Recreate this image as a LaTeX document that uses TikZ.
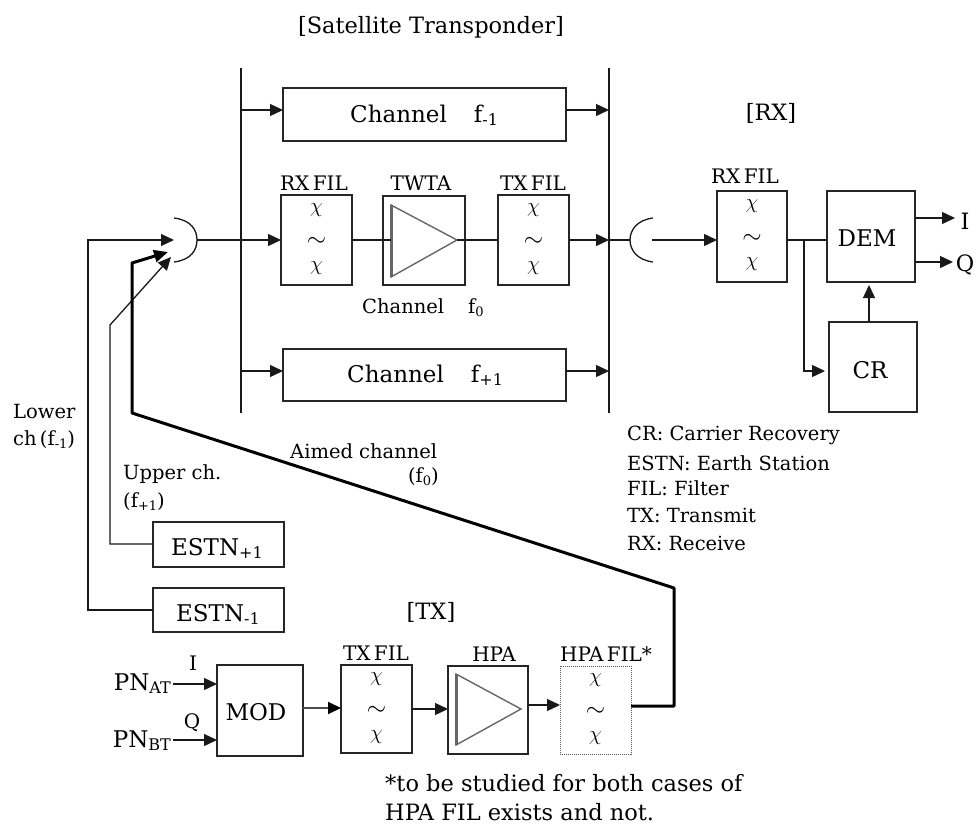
\documentclass[tikz,border=0pt]{standalone}
\usepackage{fontspec}
\setmainfont{DejaVu Serif}
\usetikzlibrary{arrows.meta,calc}
\newcommand{\pbox}[6][plainbox]{\node[#1,minimum width=#5pt-#3pt,minimum height=#6pt-#4pt] (#2) at ({(#3+#5)/2},{(#4+#6)/2}) {};}
\newcommand{\filt}[1]{\node[inner sep=0pt] at ($(#1.center)+(0,-28pt)$) {\huge$\chi$};\node[inner sep=0pt] at ($(#1.center)+(0,-2pt)$) {\Huge$\sim$};\node[inner sep=0pt] at ($(#1.center)+(0,30pt)$) {\huge$\chi$};}
\newcommand{\sbb}[1]{\raisebox{-3pt}{\fontsize{16}{16}\selectfont #1}}
\newcommand{\sbs}[1]{\raisebox{-3pt}{\fontsize{13}{13}\selectfont #1}}
\tikzset{x=1pt,y=-1pt,
 plainbox/.style={draw=black!85,line width=1.2pt,inner sep=0pt,outer sep=0pt},
 dotbox/.style={draw=black!65,densely dotted,line width=1pt,inner sep=0pt,outer sep=0pt},
 wire/.style={draw=black!90,line width=1.3pt},
 arr/.style={wire,-{Triangle[length=13pt,width=12pt]}},
 thick wire/.style={draw=black,line width=3pt,line join=round},
 amp/.style={draw=black!60,line width=1.4pt,line join=miter},
 lab/.style={font=\fontsize{20}{21}\selectfont,inner sep=0pt},
 big/.style={font=\fontsize{23}{25}\selectfont,inner sep=0pt},
 brk/.style={font=\fontsize{22.5}{24}\selectfont,inner sep=0pt},
 small/.style={font=\fontsize{19.5}{21}\selectfont,inner sep=0pt,anchor=west},
 note/.style={font=\fontsize{22.5}{24}\selectfont,inner sep=0pt,anchor=west}}
\begin{document}
\begin{tikzpicture}
\useasboundingbox (0,0) rectangle (976,826);
% bars
\coordinate (lt) at (241,68); \coordinate (lb) at (241,413);
\coordinate (rt) at (609,68); \coordinate (rb) at (609,413);
\draw[wire] (lt)--(lb); \draw[wire] (rt)--(rb);
% transponder boxes
\pbox{chm}{283}{88}{566}{141}
\pbox{chp}{283}{349}{566}{401}
\node[big,anchor=west] (tchm) at (350,115) {Channel\hspace{27pt}f\sbb{-1}};
\node[big,anchor=west] (tchp) at (347,375) {Channel\hspace{27pt}f\sbb{+1}};
\pbox{rxf}{281}{195}{352}{285}\filt{rxf}
\pbox{twta}{383}{196}{465}{285}
\pbox{txf}{498}{195}{569}{285}\filt{txf}
\coordinate (tA) at (391,205);\coordinate (tB) at (391,277);\coordinate (tC) at (457,240);
\draw[amp] (tA)--(tC)--(tB)--cycle;
\draw[draw=black!60,line width=3pt] (tA)--(tB);
\node[lab] (lrxf) at (314,183) {RX\,FIL};
\node[lab] (ltwta) at (421,183) {TWTA};
\node[lab] (ltxf) at (533,183) {TX\,FIL};
\node[small,anchor=west] (lch0) at (362,308) {Channel\hspace{24pt}f\sbs{0}};
\node[brk] (lsat) at (431,27) {[Satellite Transponder]};
\node[brk] (lrx) at (771,113) {[RX]};
% antennas
\coordinate (ua) at (174,218);\coordinate (ub) at (174,262);\coordinate (uc) at (197,240);\coordinate (ui) at (174,240);
\draw[wire] (ua) .. controls (191,220) and (197,230) .. (uc) .. controls (197,250) and (191,260) .. (ub);
\coordinate (da) at (653,218);\coordinate (db) at (653,262);\coordinate (dc) at (630,240);\coordinate (do) at (652,240);
\draw[wire] (da) .. controls (637,220) and (630,230) .. (dc) .. controls (630,250) and (637,260) .. (db);
% transponder wires
\coordinate (ym) at (0,110); \coordinate (yp) at (0,371);
\draw[arr] (lt|-ym)--(chm.west|-ym);
\draw[arr] (chm.east|-ym)--(rt|-ym);
\draw[arr] (lt|-yp)--(chp.west|-yp);
\draw[arr] (chp.east|-yp)--(rt|-yp);
\draw[arr] (uc)--(rxf.west);
\draw[wire] (rxf.east)--(tA|-rxf.east);
\draw[wire] (tC)--(txf.west);
\draw[arr] (txf.east)--(rt|-txf.east);
\draw[wire] (rt|-txf.east)--(dc);
% receiver
\pbox{rrx}{717}{191}{787}{282}\filt{rrx}
\pbox{dem}{827}{191}{915}{282}
\pbox{cr}{829}{322}{917}{412}
\node[big] (tdem) at (867,238) {DEM};
\node[big] (tcr) at (870,370) {CR};
\node[lab] (lrrx) at (745,176) {RX\,FIL};
\draw[arr] (do)--(rrx.west|-do);
\draw[wire] (rrx.east|-do)--(dem.west|-do);
\coordinate (br) at (804,240);
\coordinate (iout) at (955,218);\coordinate (qout) at (953,262);
\node[brk] (il) at (965,221) {I};
\node[brk] (ql) at (965,265) {Q};
\coordinate (crin) at (825,371);
\draw[arr] (br)--(br|-crin)--(crin);
\coordinate (crtop) at (869,322);\coordinate (demb) at (869,285);
\draw[arr] (crtop)--(demb);
\draw[arr] (dem.east|-iout)--(iout);
\draw[arr] (dem.east|-qout)--(qout);
% legend
\node[small] (k1) at (627,435) {CR: Carrier Recovery};
\node[small] (k2) at (627,463) {ESTN: Earth Station};
\node[small] (k3) at (627,488) {FIL: Filter};
\node[small] (k4) at (627,515) {TX: Transmit};
\node[small] (k5) at (627,543) {RX: Receive};
% earth stations
\pbox{ep}{153}{522}{284}{567}
\pbox{em}{153}{588}{284}{632}
\node[big] (tep) at (217,548) {ESTN\sbb{+1}};
\node[big] (tem) at (218,614) {ESTN\sbb{-1}};
\coordinate (e1) at (88,610);\coordinate (e2) at (88,240);
\coordinate (f1) at (110,544);\coordinate (f2) at (110,325);\coordinate (f3) at (171,257);
\draw[arr] (em.west|-e1)--(e1)--(e2)--(ui);
\draw[arr] (ep.west|-f1)--(f1)--(f2)--(f3);
% labels
\node[small] (l1) at (13,412) {Lower};
\node[small] (l2) at (13,440) {ch\,(f\sbs{-1})};
\node[small] (l3) at (123,474) {Upper ch.};
\node[small] (l4) at (123,502) {(f\sbs{+1})};
\node[small] (l5) at (290,451) {Aimed channel};
\node[small,anchor=east] (l6) at (439,477) {(f\sbs{0})};
% TX chain
\pbox{mod}{217}{665}{303}{756}
\pbox{tf}{341}{665}{412}{753}\filt{tf}
\pbox{hpa}{448}{666}{528}{754}
\pbox[dotbox]{hf}{560}{666}{631}{754}\filt{hf}
\coordinate (hA) at (456,674);\coordinate (hB) at (456,745);\coordinate (hC) at (521,709);
\draw[amp] (hA)--(hC)--(hB)--cycle;
\draw[draw=black!60,line width=3pt] (hA)--(hB);
\node[big] (tmod) at (256,712) {MOD};
\node[lab] (ltf) at (376,653) {TX\,FIL};
\node[lab] (lhpa) at (494,654) {HPA};
\node[lab] (lhf) at (606,654) {HPA\,FIL*};
\node[brk] (ltx) at (431,612) {[TX]};
\node[big,anchor=east] (pa) at (171,684) {PN\sbb{AT}};
\node[big,anchor=east] (pb) at (171,741) {PN\sbb{BT}};
\node[lab] (lI) at (193,663) {I};
\node[lab] (lQ) at (192,723) {Q};
\coordinate (ya) at (173,684);\coordinate (yb) at (173,740);
\draw[arr] (ya)--(mod.west|-ya);
\draw[arr] (yb)--(mod.west|-yb);
\coordinate (yc) at (0,708);
\draw[draw=black!70,line width=2pt,-{Triangle[length=13pt,width=12pt,color=black]}] (mod.east|-yc)--(tf.west|-yc);
\coordinate (yd) at (0,709);
\draw[arr] (tf.east|-yd)--(hpa.west|-yd);
\coordinate (ye) at (0,705);
\draw[arr] (hpa.east|-ye)--(hf.west|-ye);
\coordinate (g1) at (674,706);\coordinate (g2) at (674,588);\coordinate (g3) at (132,413);\coordinate (g4) at (132,263);\coordinate (g5) at (168,252);
\draw[thick wire,-{Triangle[length=14pt,width=12pt]}] (hf.east|-g1)--(g1)--(g2)--(g3)--(g4)--(g5);
\node[note] (n1) at (385,783) {*to be studied for both cases of};
\node[note] (n2) at (385,812) {HPA FIL exists and not.};
\end{tikzpicture}
\end{document}
